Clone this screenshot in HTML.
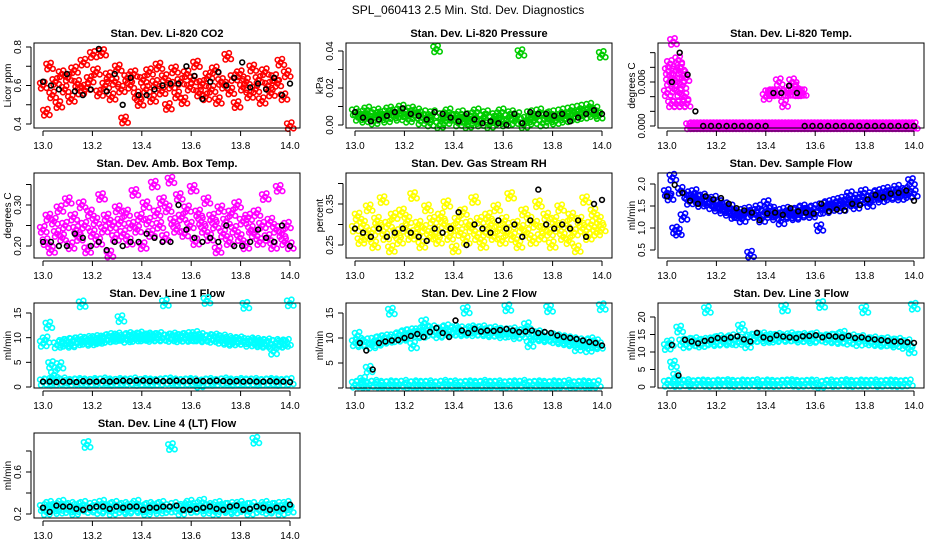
<!DOCTYPE html>
<html><head><meta charset="utf-8"><style>
html,body{margin:0;padding:0;background:#fff}
svg{display:block}
text{font-family:"Liberation Sans",sans-serif}
</style></head><body>
<svg id="chart" width="936" height="540" viewBox="0 0 936 540" xmlns="http://www.w3.org/2000/svg">
<text x="468" y="14" text-anchor="middle" font-size="12">SPL_060413  2.5 Min. Std. Dev. Diagnostics</text>
</svg>
<script>
const xTicks=[13.0,13.2,13.4,13.6,13.8,14.0];
const xTickLabels=["13.0","13.2","13.4","13.6","13.8","14.0"];
const p1Red=[0.60,0.46,0.70,0.55,0.62,0.50,0.66,0.58,0.64,0.53,0.68,0.61,0.57,0.72,0.59,0.63,0.76,0.67,0.56,0.77,0.60,0.65,0.54,0.62,0.69,0.58,0.42,0.64,0.60,0.66,0.55,0.51,0.63,0.58,0.67,0.53,0.61,0.70,0.57,0.64,0.49,0.60,0.68,0.55,0.62,0.52,0.66,0.59,0.63,0.71,0.56,0.61,0.54,0.65,0.58,0.68,0.52,0.62,0.60,0.75,0.57,0.64,0.50,0.66,0.59,0.62,0.55,0.69,0.58,0.63,0.52,0.67,0.60,0.56,0.64,0.61,0.72,0.54,0.66,0.39];
const p1Black=[0.62,0.60,0.58,0.66,0.57,0.55,0.58,0.79,0.57,0.66,0.50,0.64,0.55,0.55,0.58,0.60,0.61,0.61,0.70,0.65,0.53,0.62,0.67,0.60,0.64,0.72,0.59,0.61,0.58,0.64,0.55,0.61];
const p2Green=[0.007,0.004,0.006,0.003,0.008,0.005,0.002,0.007,0.004,0.006,0.003,0.008,0.005,0.007,0.004,0.009,0.006,0.003,0.008,0.005,0.007,0.002,0.006,0.004,0.001,0.006,0.041,0.000,0.005,0.002,0.007,0.004,0.004,0.001,0.006,0.003,0.000,0.005,0.002,0.007,0.001,0.004,0.006,0.000,0.003,0.005,0.002,0.007,0.001,0.004,0.006,0.002,0.005,0.039,0.000,0.003,0.006,0.002,0.004,0.007,0.001,0.005,0.003,0.006,0.002,0.004,0.007,0.003,0.005,0.008,0.004,0.006,0.009,0.005,0.007,0.010,0.006,0.008,0.005,0.038];
const p2Black=[0.007,0.004,0.002,0.003,0.005,0.007,0.009,0.006,0.005,0.003,0.007,0.006,0.004,0.002,0.006,0.003,0.001,0.002,0.001,0.000,0.006,0.001,0.007,0.006,0.006,0.005,0.006,0.002,0.004,0.006,0.008,0.006];
const p3PinkEarly=[0.0045,0.0075,0.0060,0.0085,0.0030,0.0065,0.0115,0.0050,0.0075,0.0030,0.0060,0.0090,0.0045,0.0080,0.0030,0.0055,0.0070,0.0040,0.0065,0.0030];
const p3PinkMid=[0.0040,0.0045,0.0045,0.0045,0.0045,0.0060,0.0045,0.0030,0.0045,0.0045,0.0060,0.0055,0.0045,0.0045,0.0045];
const p3PinkZero=[0,0,0,0,0,0,0,0,0,0,0,0,0,0,0,0,0,0,0,0,0,0,0,0,0,0,0,0,0,0,0,0,0,0,0,0,0,0,0,0,0,0,0,0,0,0,0,0,0,0,0,0,0,0,0,0,0,0,0,0,0,0,0,0,0,0,0,0,0,0];
const p3Black=[0.006,0.010,0.007,0.002,0,0,0,0,0,0,0,0,0,0.0045,0.0045,0.0055,0.0045,0,0,0,0,0,0,0,0,0,0,0,0,0,0,0];
const p4Pink=[0.24,0.21,0.27,0.19,0.26,0.23,0.29,0.22,0.25,0.31,0.20,0.27,0.24,0.22,0.30,0.25,0.19,0.28,0.23,0.26,0.21,0.32,0.24,0.27,0.18,0.25,0.22,0.29,0.26,0.23,0.28,0.21,0.25,0.33,0.24,0.27,0.20,0.30,0.26,0.23,0.35,0.28,0.25,0.31,0.22,0.29,0.36,0.26,0.24,0.32,0.27,0.23,0.29,0.25,0.34,0.21,0.28,0.26,0.24,0.31,0.22,0.27,0.25,0.19,0.29,0.23,0.26,0.21,0.28,0.24,0.30,0.22,0.26,0.20,0.27,0.24,0.23,0.28,0.21,0.25,0.32,0.22,0.26,0.20,0.24,0.34,0.23,0.21,0.25,0.20];
const p4Black=[0.21,0.21,0.20,0.20,0.23,0.22,0.20,0.21,0.19,0.21,0.20,0.21,0.21,0.23,0.22,0.21,0.21,0.30,0.24,0.22,0.21,0.22,0.21,0.25,0.20,0.20,0.21,0.24,0.22,0.21,0.25,0.20];
const p5Yellow=[0.29,0.32,0.26,0.30,0.27,0.34,0.28,0.25,0.31,0.29,0.36,0.27,0.30,0.24,0.32,0.28,0.26,0.33,0.29,0.31,0.27,0.37,0.28,0.30,0.25,0.29,0.34,0.27,0.31,0.28,0.26,0.32,0.30,0.35,0.27,0.29,0.24,0.31,0.28,0.33,0.26,0.30,0.29,0.36,0.27,0.31,0.25,0.28,0.32,0.30,0.27,0.34,0.29,0.26,0.31,0.28,0.37,0.27,0.30,0.25,0.29,0.33,0.28,0.31,0.26,0.30,0.35,0.27,0.29,0.32,0.28,0.25,0.31,0.29,0.34,0.27,0.30,0.26,0.32,0.28,0.24,0.31,0.29,0.36,0.27,0.30,0.33,0.28,0.31,0.29];
const p5Black=[0.29,0.28,0.27,0.29,0.27,0.28,0.29,0.28,0.27,0.26,0.29,0.28,0.29,0.33,0.25,0.30,0.29,0.28,0.31,0.29,0.30,0.27,0.31,0.385,0.30,0.29,0.30,0.29,0.31,0.27,0.35,0.36];
const p6Blue=[1.80,1.70,2.15,0.95,0.90,1.85,1.25,1.75,1.60,1.70,1.80,1.65,1.55,1.70,1.62,1.58,1.50,1.65,1.45,1.55,1.40,1.50,1.35,1.45,1.28,1.30,1.35,1.20,1.30,1.40,0.40,1.35,1.30,1.45,1.20,1.35,1.55,1.30,1.40,1.25,1.35,1.15,1.30,1.40,1.28,1.35,1.25,1.40,1.30,1.45,1.35,1.40,1.30,1.45,1.38,1.00,1.50,1.40,1.55,1.45,1.50,1.60,1.55,1.45,1.65,1.55,1.75,1.60,1.50,1.70,1.62,1.80,1.65,1.55,1.75,1.70,1.80,1.65,1.75,1.85,1.70,1.80,1.75,1.90,1.70,1.80,1.85,1.75,2.05,1.78];
const p6Black=[1.72,1.98,1.80,1.62,1.55,1.72,1.65,1.68,1.55,1.45,1.40,1.35,1.18,1.33,1.35,1.30,1.45,1.38,1.35,1.33,1.55,1.38,1.42,1.40,1.55,1.52,1.65,1.75,1.70,1.78,1.80,1.85,1.62];
const p7CyanHigh=[8.8,9.5,12.5,4.5,2.5,8.5,4.3,9.0,8.8,9.2,8.6,9.3,9.0,9.5,16.8,9.2,9.6,9.0,9.4,9.8,9.3,9.5,9.9,9.6,10.2,9.7,9.9,10.3,13.8,10.0,9.6,10.4,10.1,9.8,10.2,10.5,9.9,10.1,10.3,9.8,10.2,10.0,10.4,9.9,17.0,10.1,9.8,10.3,10.0,9.7,10.2,9.9,10.4,9.8,10.0,10.6,9.9,10.2,9.7,17.5,10.0,9.6,10.1,9.8,9.4,9.9,9.2,9.6,9.0,9.4,9.1,9.5,9.2,16.5,8.8,9.3,8.9,9.2,8.7,9.0,8.6,9.1,8.8,7.2,9.0,8.5,8.9,8.7,9.0,17.0];
const p7CyanLow=[1.0,1.1,0.9,1.0,1.2,0.9,1.0,1.1,1.0,0.9,1.1,1.0,1.2,1.0,0.9,1.1,1.0,1.0,1.2,0.9,1.1,1.0,0.9,1.0,1.1,1.2,1.0,0.9,1.0,1.1,1.0,0.5,1.0,1.1,0.9,1.0,1.2,1.0,0.9,1.1,1.0,1.0,1.1,0.9,1.0,1.1,1.0,0.9,1.0,1.1];
const p7Black=[1.1,1.1,1.0,1.1,1.1,1.0,1.2,1.1,1.1,1.2,1.1,1.2,1.3,1.2,1.3,1.3,1.2,1.3,1.2,1.2,1.3,1.2,1.2,1.3,1.2,1.2,1.3,1.2,1.1,1.2,1.1,1.2,1.1,1.1,1.2,1.1,1.1,1.0];
const p8CyanHigh=[9.0,10.5,8.8,1.5,9.2,3.7,8.5,9.5,9.0,9.8,9.4,10.0,9.6,15.3,10.2,9.8,10.6,10.0,11.0,10.4,11.2,8.5,10.8,11.4,10.6,13.0,11.6,11.0,11.8,11.2,10.6,11.6,11.0,12.0,11.4,11.0,11.8,11.2,11.6,11.0,15.5,11.4,11.8,11.0,11.6,11.2,11.8,11.0,11.4,10.8,11.6,11.0,11.3,10.6,11.2,16.0,10.8,11.4,10.4,11.0,10.6,11.2,12.4,8.8,10.6,10.2,10.8,10.0,10.4,9.8,15.8,10.2,9.6,10.0,9.4,9.8,9.2,9.6,9.0,9.4,8.0,9.2,8.8,9.0,7.8,9.4,8.6,9.0,8.4,16.2];
const p8CyanLow=[0.7,0.8,0.6,0.7,0.9,0.7,0.6,0.8,0.7,0.7,0.9,0.6,0.8,0.7,0.7,0.8,0.6,0.7,0.9,0.7,0.8,0.6,0.7,0.8,0.7,0.6,0.9,0.7,0.7,0.8,0.6,0.7,0.8,0.7,0.9,0.6,0.7,0.8,0.7,0.6,0.8,0.7,0.7,0.9,0.6,0.7,0.8,0.7,0.6,0.8];
const p8Black=[9.0,7.5,3.7,9.0,9.3,9.5,9.6,10.0,10.4,10.8,10.2,11.2,12.0,11.0,10.2,13.5,11.5,11.0,11.8,11.3,11.5,11.4,11.6,11.8,11.5,11.2,11.3,11.5,11.0,11.2,11.0,10.5,10.2,10.0,9.8,9.5,9.2,9.0,8.5];
const p9CyanHigh=[11.5,12.5,6.5,3.0,16.5,12.8,12.0,13.0,12.4,13.2,12.6,12.2,13.0,22.0,12.8,13.4,12.6,13.8,13.0,13.4,12.8,14.0,13.4,12.8,17.0,13.6,12.0,14.2,13.6,14.4,13.8,14.6,13.4,14.2,14.0,13.6,14.4,14.0,22.5,13.8,14.6,14.0,14.2,13.6,14.4,13.8,14.2,13.4,14.6,13.8,23.5,14.0,13.6,14.2,13.4,14.4,13.2,15.0,13.6,13.0,14.0,13.4,12.6,13.8,22.0,13.2,12.8,13.4,12.6,13.0,12.4,13.2,12.6,12.8,12.2,13.0,12.4,11.8,12.6,10.5,23.0];
const p9CyanLow=[1.0,1.1,0.9,1.0,1.2,0.9,1.0,1.1,1.0,0.9,1.1,1.0,1.2,1.0,0.9,1.1,1.0,1.0,1.2,0.9,1.1,1.0,0.9,1.0,1.1,1.2,1.0,0.9,1.0,1.1,1.0,0.6,1.0,1.1,0.9,1.0,1.2,1.0,0.9,1.1,1.0,1.0,1.1,0.9,1.0,1.1,1.0,0.9,1.0,1.1];
const p9Black=[12.0,3.3,13.5,13.0,12.5,13.2,13.5,14.0,13.8,14.2,14.5,13.6,13.0,15.5,14.2,13.8,14.8,14.4,14.2,14.0,14.5,14.6,14.8,14.2,14.6,14.4,14.2,14.6,14.0,14.2,13.8,13.6,13.4,13.2,13.0,13.0,12.8,12.6];
const p10Cyan=[0.26,0.22,0.29,0.25,0.27,0.23,0.30,0.26,0.24,0.28,0.22,0.27,0.25,0.29,0.86,0.24,0.28,0.26,0.23,0.30,0.25,0.27,0.22,0.29,0.26,0.24,0.28,0.23,0.27,0.25,0.30,0.24,0.26,0.22,0.28,0.25,0.27,0.23,0.29,0.26,0.24,0.84,0.28,0.25,0.22,0.27,0.26,0.30,0.24,0.28,0.25,0.31,0.23,0.27,0.26,0.22,0.29,0.25,0.27,0.24,0.28,0.23,0.26,0.29,0.25,0.27,0.22,0.28,0.90,0.24,0.26,0.29,0.23,0.27,0.25,0.28,0.22,0.26,0.29,0.24];
const p10Black=[0.26,0.22,0.28,0.27,0.27,0.25,0.24,0.26,0.27,0.27,0.25,0.27,0.26,0.27,0.27,0.24,0.26,0.26,0.27,0.27,0.28,0.24,0.24,0.25,0.26,0.27,0.25,0.24,0.27,0.28,0.24,0.25,0.27,0.26,0.24,0.26,0.25,0.29];

const panels=[
 {c:0,r:0,name:"co2",title:"Stan. Dev. Li-820 CO2",ylab:"Licor ppm",ref:[0.8,47,0.4,124],ticks:[0.4,0.5,0.6,0.7,0.8],labels:[[0.4,"0.4"],[0.6,"0.6"],[0.8,"0.8"]],
  series:[{col:"#ff0000",ys:p1Red},{col:"#000",ys:p1Black}]},
 {c:1,r:0,name:"pressure",title:"Stan. Dev. Li-820 Pressure",ylab:"kPa",ref:[0.04,51,0,125],ticks:[0,0.01,0.02,0.03,0.04],labels:[[0,"0.00"],[0.02,"0.02"],[0.04,"0.04"]],
  series:[{col:"#00cc00",ys:p2Green},{col:"#000",ys:p2Black}]},
 {c:2,r:0,name:"temp",title:"Stan. Dev. Li-820 Temp.",ylab:"degrees C",ref:[0.006,82,0,126],ticks:[0,0.002,0.004,0.006,0.008,0.010],labels:[[0,"0.000"],[0.006,"0.006"]],
  series:[{col:"#ff00ff",ys:p3PinkEarly,x0:13.0,x1:13.08},{col:"#ff00ff",ys:p3PinkMid,x0:13.40,x1:13.55},{col:"#ff00ff",ys:p3PinkZero,x0:13.09,x1:14.0},{col:"#000",ys:p3Black,x0:13.02,x1:14.0}]},
 {c:0,r:1,name:"amb-box-temp",title:"Stan. Dev. Amb. Box Temp.",ylab:"degrees C",ref:[0.30,205,0.20,246],ticks:[0.20,0.25,0.30,0.35],labels:[[0.2,"0.20"],[0.3,"0.30"]],
  series:[{col:"#ff00ff",ys:p4Pink},{col:"#000",ys:p4Black}]},
 {c:1,r:1,name:"gas-stream-rh",title:"Stan. Dev. Gas Stream RH",ylab:"percent",ref:[0.35,204,0.25,245],ticks:[0.25,0.30,0.35,0.40],labels:[[0.25,"0.25"],[0.35,"0.35"]],
  series:[{col:"#ffff00",ys:p5Yellow},{col:"#000",ys:p5Black}]},
 {c:2,r:1,name:"sample-flow",title:"Stan. Dev. Sample Flow",ylab:"ml/min",ref:[2.0,184,0.5,250],ticks:[0.5,1.0,1.5,2.0],labels:[[0.5,"0.5"],[1.0,"1.0"],[1.5,"1.5"],[2.0,"2.0"]],
  series:[{col:"#0000ff",ys:p6Blue},{col:"#000",ys:p6Black}]},
 {c:0,r:2,name:"line1-flow",title:"Stan. Dev. Line 1 Flow",ylab:"ml/min",ref:[15,313,0,387],ticks:[0,5,10,15],labels:[[0,"0"],[5,"5"],[10,"10"],[15,"15"]],
  series:[{col:"#00ffff",ys:p7CyanHigh},{col:"#00ffff",ys:p7CyanLow},{col:"#000",ys:p7Black}]},
 {c:1,r:2,name:"line2-flow",title:"Stan. Dev. Line 2 Flow",ylab:"ml/min",ref:[15,313,0,388],ticks:[0,5,10,15],labels:[[5,"5"],[10,"10"],[15,"15"]],
  series:[{col:"#00ffff",ys:p8CyanHigh},{col:"#00ffff",ys:p8CyanLow,x0:13.0,x1:13.98},{col:"#000",ys:p8Black,x0:13.02,x1:14.0}]},
 {c:2,r:2,name:"line3-flow",title:"Stan. Dev. Line 3 Flow",ylab:"ml/min",ref:[20,317,0,387],ticks:[0,5,10,15,20],labels:[[0,"0"],[5,"5"],[10,"10"],[15,"15"],[20,"20"]],
  series:[{col:"#00ffff",ys:p9CyanHigh},{col:"#00ffff",ys:p9CyanLow,x0:13.0,x1:13.98},{col:"#000",ys:p9Black,x0:13.02,x1:14.0}]},
 {c:0,r:3,name:"line4-flow",title:"Stan. Dev. Line 4 (LT) Flow",ylab:"ml/min",ref:[0.6,472,0.2,514],ticks:[0.2,0.4,0.6,0.8],labels:[[0.2,"0.2"],[0.6,"0.6"]],
  series:[{col:"#00ffff",ys:p10Cyan},{col:"#000",ys:p10Black}]}
];

const NS="http://www.w3.org/2000/svg";
const svg=document.getElementById('chart');
function mk(tag,attrs,parent){const e=document.createElementNS(NS,tag);for(const k in attrs)e.setAttribute(k,attrs[k]);parent.appendChild(e);return e;}
// glyph cluster used for the dense 2-min series (marker style, not data)
const denseGlyph=[[0,0],[3.5,2.5],[-3,-2.5],[1.5,-3.5],[-2,3]];

panels.forEach(p=>{
  const ox=312*p.c, top=43+130*p.r, bot=128+130*p.r;
  const left=ox+34, right=ox+300;
  const g=mk('g',{},svg);
  
  
  const xs=v=>ox+43+(v-13)*247;
  const ys=v=>p.ref[1]+(v-p.ref[0])*(p.ref[3]-p.ref[1])/(p.ref[2]-p.ref[0]);
  const t=mk('text',{x:ox+167,y:top-6,'text-anchor':'middle','font-size':11,'font-weight':'bold'},g);
  t.textContent=p.title;
  
  
  p.series.forEach(s=>{
    const black=s.col==="#000";
    const sg=mk('g',{fill:'none',stroke:s.col,'stroke-width':1.6},g);
    
    
    const x0=s.x0!==undefined?s.x0:13.0, x1=s.x1!==undefined?s.x1:14.0, n=s.ys.length;
    const glyph=black?[[0,0]]:denseGlyph;
    s.ys.forEach((v,i)=>{
      const xv=x0+(n>1?(x1-x0)*i/(n-1):0);
      const cx=xs(xv), cy=ys(v);
      const pg=mk('g',{},sg);
      
      
      glyph.forEach(([dx,dy])=>{
        mk('circle',{cx:(cx+dx).toFixed(1),cy:(cy+dy).toFixed(1),r:2.4},pg);
      });
    });
  });
  const box=mk('rect',{x:left,y:top,width:right-left,height:bot-top,fill:'none',stroke:'#000','stroke-width':1},g);
  
  
  const xa=mk('g',{},g);
  
  
  mk('line',{x1:xs(13),x2:xs(14),y1:bot+3,y2:bot+3,stroke:'#000'},xa);
  xTicks.forEach((v,i)=>{
    mk('line',{x1:xs(v),x2:xs(v),y1:bot+3,y2:bot+8,stroke:'#000'},xa);
    const l=mk('text',{x:xs(v),y:bot+21,'text-anchor':'middle','font-size':10},xa);
    l.textContent=xTickLabels[i];
  });
  const ya=mk('g',{},g);
  
  
  const tk=p.ticks;
  mk('line',{x1:left-3,x2:left-3,y1:ys(tk[0]),y2:ys(tk[tk.length-1]),stroke:'#000'},ya);
  tk.forEach(v=>mk('line',{x1:left-8,x2:left-3,y1:ys(v),y2:ys(v),stroke:'#000'},ya));
  p.labels.forEach(([v,s])=>{
    const yy=ys(v), xx=left-13;
    const l=mk('text',{x:xx,y:yy,'text-anchor':'middle','font-size':10,transform:`rotate(-90 ${xx} ${yy})`},ya);
    l.textContent=s;
  });
  const ymid=(top+bot)/2;
  const yl=mk('text',{x:ox+11,y:ymid,'text-anchor':'middle','font-size':10,transform:`rotate(-90 ${ox+11} ${ymid})`},g);
  yl.textContent=p.ylab;
  
  
});
</script>
</body></html>
